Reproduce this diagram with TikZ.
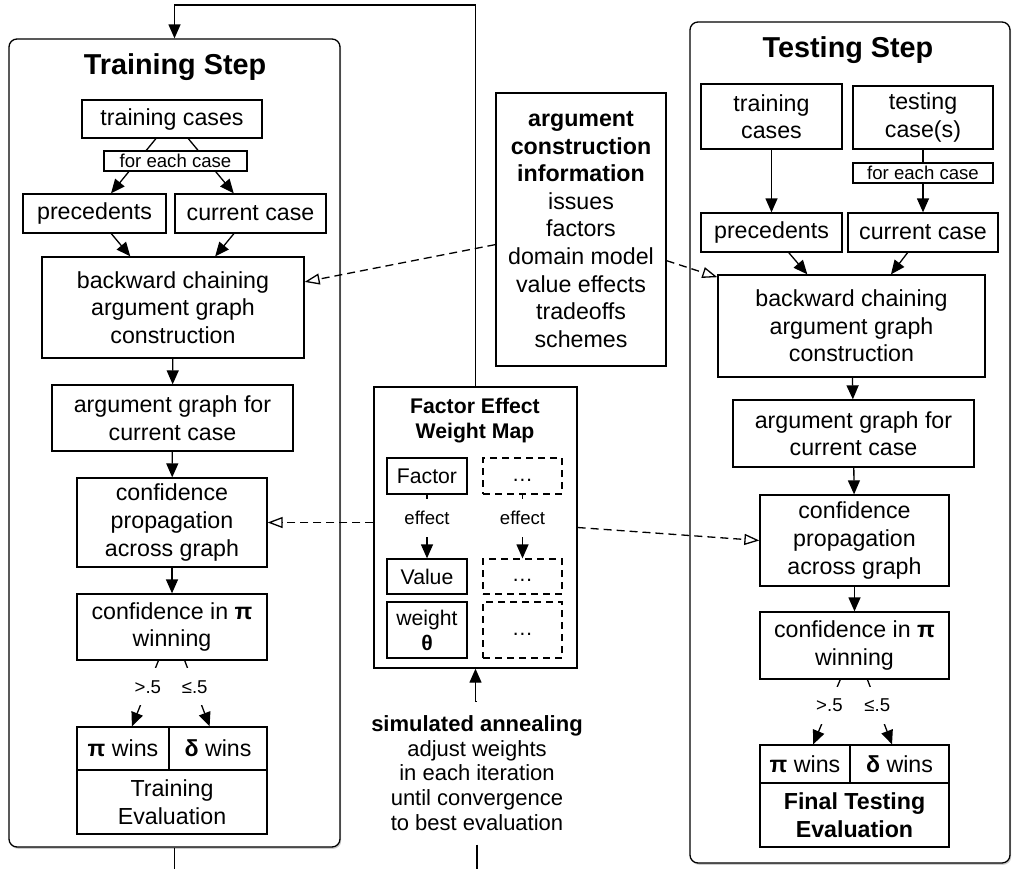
\documentclass[tikz,border=0pt]{standalone}
\usepackage{fontspec}
\setmainfont{Liberation Sans}
\usepackage{tikz}
\usetikzlibrary{arrows.meta,shadows}

\newcommand{\bodyfont}{\fontsize{11.6}{13.8}\selectfont}
\newcommand{\smallfont}{\fontsize{9.3}{11}\selectfont}
\newcommand{\mapfont}{\fontsize{10.6}{12.5}\selectfont}
\newcommand{\annealfont}{\fontsize{11}{12.3}\selectfont}
\newcommand{\titlefont}{\fontsize{14.4}{17}\selectfont\bfseries}

\tikzset{
  box/.style={draw, line width=0.65pt, align=center, inner sep=0pt, fill=white},
  dbox/.style={box, dash pattern=on 3.5pt off 2.5pt},
  stepbox/.style={draw, line width=0.65pt, rounded corners=4pt, fill=white,
    drop shadow={shadow xshift=0.6pt, shadow yshift=-0.9pt, opacity=0.4}},
  sz/.style 2 args={minimum width=#1*0.5pt, minimum height=#2*0.5pt},
  arr/.style={line width=0.65pt, -{Triangle[length=7pt,width=6pt]}},
  darr/.style={line width=0.65pt, dash pattern=on 4pt off 2.5pt,
    -{Triangle[open,length=7.5pt,width=5.5pt]}},
  lbl/.style={fill=white, font=\smallfont, inner xsep=1pt, inner ysep=6pt},
}

\begin{document}
\begin{tikzpicture}[x=0.5pt, y=-0.5pt, font=\bodyfont]
        \useasboundingbox (0, 0) rectangle (1013, 869);
        \coordinate (looptop) at (300, 5);
        \coordinate (loopbot) at (300, 869);

        % training step
        \node [stepbox, sz={331}{808}] (trainbox) at (174.5, 443) {};
        \node [font=\titlefont] (traintitle) at (175, 67) {Training Step};

        \node [box, sz={180}{38}] (tcases1) at (172, 119) {training cases};
        \node [box, sz={143}{39}] (prec1) at (94.5, 213.5) {precedents};
        \node [box, sz={151}{39}] (cur1) at (250.5, 213.5) {current case};
        \node [box, sz={262}{101}] (back1) at (173, 307.5)
          {backward chaining\\argument graph\\construction};
        \node [box, sz={241}{66}] (agraph1) at (172.5, 418)
          {argument graph for\\current case};
        \node [box, sz={190}{89}] (prop1) at (172, 522.5)
          {confidence\\propagation\\across graph};
        \node [box, sz={190}{66}] (conf1) at (172, 627)
          {confidence in \textbf{π}\\winning};
        \node [box, sz={92}{43}] (piw1) at (123, 748.5) {\textbf{π} wins};
        \node [box, sz={98}{43}] (delw1) at (218, 748.5) {\textbf{δ} wins};
        \node [box, sz={190}{64}] (eval1) at (172, 802) {Training\\Evaluation};

        \draw [arr] (tcases1) -- (prec1);
        \draw [arr] (tcases1) -- (cur1);
        \node [box, sz={143}{20}, font=\smallfont] (foreach1) at (175.5, 161) {for each case};
        \draw [arr] (prec1) -- (back1);
        \draw [arr] (cur1) -- (back1);
        \draw [arr] (back1) -- (agraph1);
        \draw [arr] (agraph1) -- (prop1);
        \draw [arr] (prop1) -- (conf1);
        \draw [arr] (conf1) -- node [lbl, pos=0.4] {>.5} (piw1);
        \draw [arr] (conf1) -- node [lbl, pos=0.4] {≤.5} (delw1);

        % testing step
        \node [stepbox, sz={320}{841}] (testbox) at (850, 442.5) {};
        \node [font=\titlefont] (testtitle) at (848, 50) {Testing Step};

        \node [box, sz={141}{65}] (tcases2) at (771.5, 116.5) {training\\cases};
        \node [box, sz={140}{63}] (tcs2) at (923, 117.5) {testing\\case(s)};
        \node [box, sz={141}{39}] (prec2) at (771.5, 232.5) {precedents};
        \node [box, sz={150}{39}] (cur2) at (923, 232.5) {current case};
        \node [box, sz={267}{102}] (back2) at (851.5, 326)
          {backward chaining\\argument graph\\construction};
        \node [box, sz={241}{67}] (agraph2) at (853.5, 433.5)
          {argument graph for\\current case};
        \node [box, sz={189}{91}] (prop2) at (854.5, 540.5)
          {confidence\\propagation\\across graph};
        \node [box, sz={189}{67}] (conf2) at (854.5, 645.5)
          {confidence in \textbf{π}\\winning};
        \node [box, sz={90}{38}] (piw2) at (805, 764) {\textbf{π} wins};
        \node [box, sz={99}{38}] (delw2) at (899.5, 764) {\textbf{δ} wins};
        \node [box, sz={189}{64}, font=\bodyfont\bfseries] (eval2) at (854.5, 815)
          {Final Testing\\Evaluation};

        \draw [arr] (tcases2) -- (prec2);
        \draw [arr] (tcs2) -- (cur2);
        \node [box, sz={140}{20}, font=\smallfont] (foreach2) at (923, 173) {for each case};
        \draw [arr] (prec2) -- (back2);
        \draw [arr] (cur2) -- (back2);
        \draw [arr] (back2) -- (agraph2);
        \draw [arr] (agraph2) -- (prop2);
        \draw [arr] (prop2) -- (conf2);
        \draw [arr] (conf2) -- node [lbl, pos=0.4] {>.5} (piw2);
        \draw [arr] (conf2) -- node [lbl, pos=0.4] {≤.5} (delw2);

        % argument construction information
        \node [box, sz={170}{273}] (arginfo) at (581, 229.5)
          {\textbf{argument}\\\textbf{construction}\\\textbf{information}\\issues\\factors\\domain model\\value effects\\tradeoffs\\schemes};
        \draw [darr] (arginfo.190) -- (back1.11);
        \draw [darr] (arginfo.-20) -- (back2.160);

        % factor effect weight map
        \node [box, sz={203}{281}] (fmap) at (475.5, 527.5) {};
        \node [font=\mapfont\bfseries, align=center] (fmaptitle) at (475, 421)
          {Factor Effect\\Weight Map};
        \node [box, sz={80}{36}, font=\mapfont] (factor) at (427, 476) {Factor};
        \node [dbox, sz={79}{36}, font=\mapfont] (fdots1) at (522.5, 476) {\strut…};
        \node [box, sz={80}{35}, font=\mapfont] (value) at (427, 576.5) {Value};
        \node [dbox, sz={79}{35}, font=\mapfont] (fdots2) at (522.5, 576.5) {\strut…};
        \node [box, sz={80}{56}, font=\mapfont] (weight) at (427, 630) {weight\\\textbf{θ}};
        \node [dbox, sz={79}{56}, font=\mapfont] (fdots3) at (522.5, 630) {\strut…};
        \draw [arr] (factor) -- node [lbl, pos=0.37] {effect} (value);
        \draw [arr] (fdots1) -- node [lbl, pos=0.37] {effect} (fdots2);

        \draw [darr] (fmap.west |- prop1.east) -- (prop1.east);
        \draw [darr] (fmap.east) -- (prop2.west);

        % simulated annealing loop
        \node [align=center, font=\annealfont, inner ysep=7pt] (anneal) at (477, 773)
          {\textbf{simulated annealing}\\adjust weights\\in each iteration\\until convergence\\to best evaluation};
        \draw [arr] (anneal.north) -- (anneal.north -| fmap.south) -- (fmap.south);
        \draw [arr] (fmap.north) -- (fmap.north |- looptop)
          -- (trainbox.north |- looptop) -- (trainbox.north);
        \draw [line width=0.65pt] (trainbox.south) -- (trainbox.south |- loopbot);
        \draw [line width=0.65pt] (anneal.south) -- (anneal.south |- loopbot);

      \end{tikzpicture}
\end{document}
